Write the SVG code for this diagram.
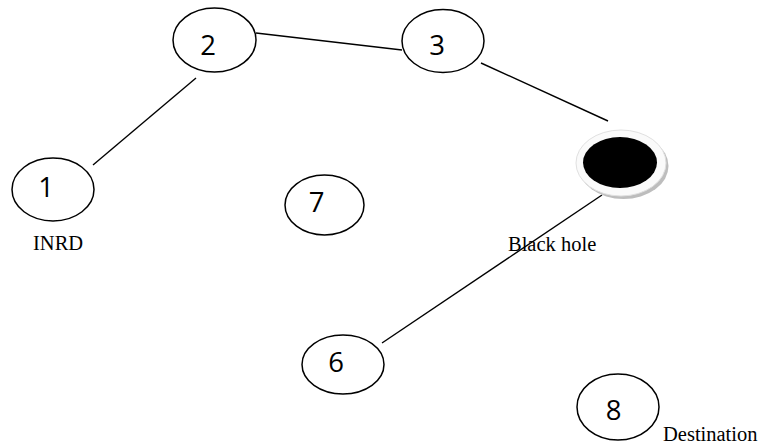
<svg xmlns="http://www.w3.org/2000/svg" width="759" height="444" viewBox="0 0 759 444">
<style>
.node{fill:#fff;stroke:#000;stroke-width:1.5}
.num{font-family:"Open Sans","Liberation Sans",sans-serif;font-size:27.5px;text-anchor:middle;fill:#000}
.lbl{font-family:"Liberation Serif",serif;font-size:20.5px;fill:#000}
.edge{stroke:#000;stroke-width:1.4;fill:none}
</style>
<rect width="759" height="444" fill="#fff"/>
<g id="edges">
<line class="edge" x1="93" y1="165" x2="196" y2="78"/>
<line class="edge" x1="256" y1="33" x2="402" y2="50"/>
<line class="edge" x1="481" y1="63" x2="608" y2="121"/>
<line class="edge" x1="602" y1="195" x2="382" y2="343"/>
</g>
<g id="node1">
<ellipse class="node" cx="53" cy="189.5" rx="41" ry="31.5"/>
<text class="num" x="46" y="197">1</text>
<text class="lbl" x="33" y="250">INRD</text>
</g>
<g id="node2">
<ellipse class="node" cx="214.5" cy="40" rx="41.5" ry="32"/>
<text class="num" x="208" y="55">2</text>
</g>
<g id="node3">
<ellipse class="node" cx="443" cy="41" rx="41" ry="31.5"/>
<text class="num" x="437" y="55">3</text>
</g>
<g id="node7">
<ellipse class="node" cx="324.5" cy="205" rx="39.5" ry="30"/>
<text class="num" x="316.5" y="212">7</text>
</g>
<g id="node6">
<ellipse class="node" cx="343" cy="364.5" rx="41" ry="29.5"/>
<text class="num" x="336" y="372">6</text>
</g>
<g id="node8">
<ellipse class="node" cx="618" cy="407" rx="41" ry="33"/>
<text class="num" x="613.5" y="420">8</text>
<text class="lbl" x="663" y="441">Destination</text>
</g>
<g id="blackhole">
<ellipse cx="623.5" cy="166" rx="45" ry="33" fill="#bdbdbd"/>
<ellipse cx="621" cy="163" rx="45" ry="33" fill="#fafafa" stroke="#e0e0e0" stroke-width="1"/>
<ellipse cx="620" cy="162.5" rx="37" ry="25.5" fill="#000"/>
<text class="lbl" x="508" y="251">Black hole</text>
</g>
</svg>
